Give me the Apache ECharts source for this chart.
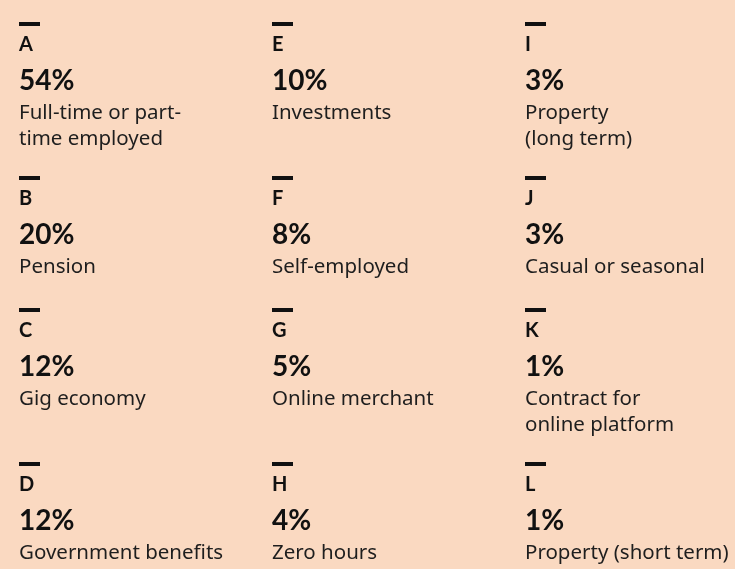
<!DOCTYPE html>
<html>
<head>
<meta charset="utf-8">
<script src="https://cdn.jsdelivr.net/npm/echarts@6/dist/echarts.min.js"></script>
<style>
  html, body { margin: 0; padding: 0; background: #fad9c1; }
  #main { width: 735px; height: 569px; }
</style>
</head>
<body>
<div id="main"></div>
<script>
var letters = ['A', 'B', 'C', 'D', 'E', 'F', 'G', 'H', 'I', 'J', 'K', 'L']
var shares = [54, 20, 12, 12, 10, 8, 5, 4, 3, 3, 1, 1]
var labels = [
  'Full-time or part-\ntime employed',
  'Pension',
  'Gig economy',
  'Government benefits',
  'Investments',
  'Self-employed',
  'Online merchant',
  'Zero hours',
  'Property\n(long term)',
  'Casual or seasonal',
  'Contract for\nonline platform',
  'Property (short term)',
]
var columns = ['c1', 'c2', 'c3']
var perColumn = 4

var ink = '#111111'

// row tops: each row grows with its longest description
var rowTop = []
var cursorY = 22
for (var r = 0; r < perColumn; r++) {
  rowTop.push(cursorY)
  var maxLines = 1
  for (var c = 0; c < columns.length; c++) {
    var lab = labels[c * perColumn + r]
    if (lab) maxLines = Math.max(maxLines, lab.split('\n').length)
  }
  cursorY += 132 + (maxLines - 1) * 22
}

var items = letters.map(function (l, i) {
  return [Math.floor(i / perColumn), i % perColumn]
})

var myChart = echarts.init(document.getElementById('main'))
var option = {
  backgroundColor: '#fad9c1',
  animation: false,
  grid: { left: 19, right: 210, top: 22, bottom: 20 },
  xAxis: { type: 'category', data: columns, boundaryGap: false, show: false },
  yAxis: { type: 'value', min: 0, max: 3, show: false },
  series: [
    {
      type: 'custom',
      data: items,
      renderItem: function (params, api) {
        var i = params.dataIndex
        var x = api.coord([api.value(0), 0])[0]
        var y = rowTop[api.value(1)]
        return {
          type: 'group',
          children: [
            {
              type: 'rect',
              shape: { x: x, y: y, width: 21, height: 4 },
              style: { fill: ink },
            },
            {
              type: 'text',
              x: x,
              y: y + 23,
              style: {
                text: letters[i],
                fill: ink,
                font: 'bold 20px Lato',
                verticalAlign: 'middle',
              },
            },
            {
              type: 'text',
              x: x,
              y: y + 59,
              style: {
                text: shares[i] + '%',
                fill: ink,
                font: 'bold 28px Lato',
                verticalAlign: 'middle',
              },
            },
            {
              type: 'text',
              x: x,
              y: y + 78,
              style: {
                text: labels[i],
                fill: '#1e1e1e',
                font: '20.5px "Noto Sans"',
                lineHeight: 26,
                verticalAlign: 'top',
              },
            },
          ],
        }
      },
    },
  ],
}
myChart.setOption(option)
</script>
</body>
</html>
